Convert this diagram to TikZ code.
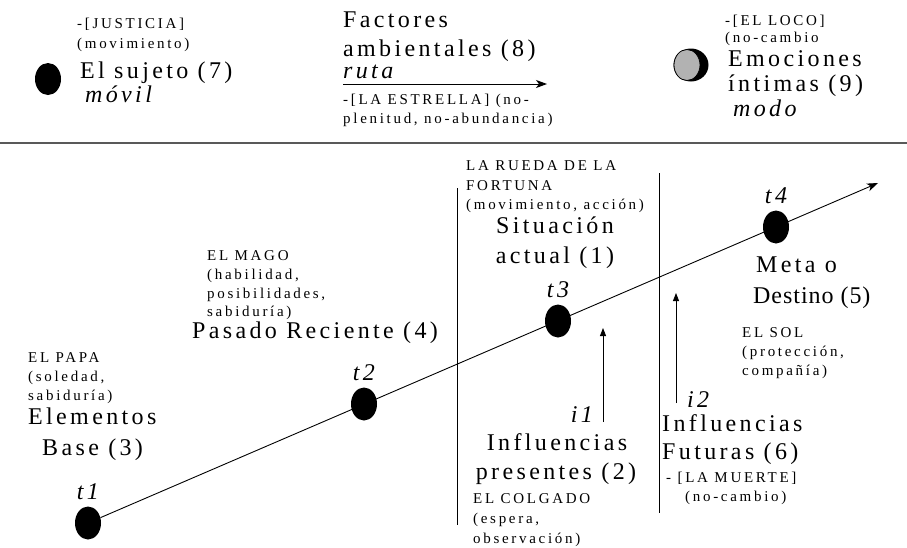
\documentclass[tikz,border=0pt]{standalone}
\usepackage{fontspec}
\setmainfont{Liberation Serif}
\newfontfamily\bigfam[LetterSpace=14]{Liberation Serif}
\newfontfamily\tightfam[LetterSpace=4]{Liberation Serif}
\newfontfamily\smallfam[LetterSpace=18]{Liberation Serif}
\usetikzlibrary{shapes.geometric,arrows.meta}
\begin{document}
\begin{tikzpicture}[x=1pt,y=-1pt,
  big/.style={font=\bigfam\fontsize{24}{30}\selectfont, inner sep=0pt, anchor=base west},
  bigc/.style={big, anchor=base},
  small/.style={font=\smallfam\fontsize{15}{19}\selectfont, inner sep=0pt, anchor=base west},
  lab/.style={font=\bigfam\itshape\fontsize{24}{30}\selectfont, inner sep=0pt, anchor=base west},
  dot/.style={ellipse, fill=black, minimum width=26pt, minimum height=33pt, inner sep=0pt},
  thinline/.style={line width=0.9pt},
  mainarrow/.style={line width=0.9pt, -{Stealth[length=11pt,width=8pt,inset=3pt]}},
  uparrow/.style={line width=0.9pt, -{Triangle[length=8pt,width=6pt]}}
]
\useasboundingbox (0,0) rectangle (907,547);

% ---------- top band ----------
\node[dot, minimum height=32pt] (suj) at (48,79) {};
\node[small] (jus1) at (77,28) {-[JUSTICIA]};
\node[small] (jus2) at (77,48) {(movimiento)};
\node[big]   (suj1) at (80,78) {El sujeto (7)};
\node[lab]   (suj2) at (85,102) {móvil};

\node[big]   (fac1) at (343,27) {Factores};
\node[big]   (fac2) at (343,56) {ambientales (8)};
\node[lab]   (fac3) at (343,78) {ruta};
\coordinate (ra) at (343,84);
\coordinate (rb) at (547,84);
\draw[mainarrow] (ra) -- (rb);
\node[small] (est1) at (343,104) {-[LA ESTRELLA] (no-};
\node[small] (est2) at (343,123) {plenitud, no-abundancia)};

\node[ellipse, fill=black, minimum width=35pt, minimum height=33pt, inner sep=0pt] (emo) at (691,65) {};
\node[ellipse, fill=black!30, draw=black, line width=0.8pt, minimum width=26pt, minimum height=31pt, inner sep=0pt] (emog) at (687,65) {};
\node[small] (loco1) at (725,25) {-[EL LOCO]};
\node[small] (loco2) at (725,42) {(no-cambio};
\node[big]   (emo1) at (728,66) {Emociones};
\node[big]   (emo2) at (728,91) {íntimas (9)};
\node[lab]   (emo3) at (733,116) {modo};

\coordinate (hl) at (0,143);
\coordinate (hr) at (907,143);
\draw[line width=1.4pt, black!65] (hl) -- (hr);

% ---------- time line ----------
\coordinate (tip) at (878,183);
\node[dot] (t1) at (88,523) {};
\node[dot] (t2) at (364,404) {};
\node[dot] (t3) at (558,321) {};
\node[dot] (t4) at (776,227) {};
\draw[mainarrow] (t1) -- (tip);
\node[lab, anchor=base] (t1l) at ([yshift=7pt]t1.north) {t1};
\node[lab, anchor=base] (t2l) at ([yshift=7pt]t2.north) {t2};
\node[lab, anchor=base] (t3l) at ([yshift=7pt]t3.north) {t3};
\node[lab, anchor=base] (t4l) at ([yshift=7pt]t4.north) {t4};

% vertical separators
\coordinate (v1a) at (457,188);
\coordinate (v1b) at (457,525);
\coordinate (v2a) at (659,173);
\coordinate (v2b) at (659,513);
\draw[thinline] (v1a) -- (v1b);
\draw[thinline] (v2a) -- (v2b);

% influence arrows
\coordinate (i1b) at (603,422);
\coordinate (i1t) at (603,328);
\coordinate (i2b) at (676,403);
\coordinate (i2t) at (676,293);
\draw[uparrow] (i1b) -- (i1t);
\draw[uparrow] (i2b) -- (i2t);
\node[lab, anchor=base east] (i1l) at (593,422) {i1};
\node[lab] (i2l) at (687,407) {i2};

% Elementos base
\node[small] (papa1) at (28,362) {EL PAPA};
\node[small] (papa2) at (28,381) {(soledad,};
\node[small] (papa3) at (28,400) {sabiduría)};
\node[big]   (ele1) at (28,424) {Elementos};
\node[big]   (ele2) at (42,455) {Base (3)};

% Pasado reciente
\node[small] (mago1) at (207,260) {EL MAGO};
\node[small] (mago2) at (207,279) {(habilidad,};
\node[small] (mago3) at (207,298) {posibilidades,};
\node[small] (mago4) at (207,316) {sabiduría)};
\node[big]   (pas) at (192,338) {Pasado Reciente (4)};

% Situacion actual
\node[small] (rue1) at (466,170) {LA RUEDA DE LA};
\node[small] (rue2) at (466,190) {FORTUNA};
\node[small] (rue3) at (466,209) {(movimiento, acción)};
\node[bigc]  (sit1) at (555,233) {Situación};
\node[bigc]  (sit2) at (555,263) {actual (1)};

% Influencias presentes
\node[bigc]  (ip1) at (557,450) {Influencias};
\node[bigc]  (ip2) at (556,479) {presentes (2)};
\node[small] (col1) at (473,503) {EL COLGADO};
\node[small] (col2) at (473,523) {(espera,};
\node[small] (col3) at (473,543) {observación)};

% Influencias futuras
\node[big]   (if1) at (662,431) {Influencias};
\node[big]   (if2) at (662,459) {Futuras (6)};
\node[small] (mue1) at (666,482) {- [LA MUERTE]};
\node[small] (mue2) at (685,501) {(no-cambio)};

% Meta o destino
\node[big]   (met1) at (756,272) {Meta o};
\node[big, font=\tightfam\fontsize{24}{30}\selectfont] (met2) at (753,303) {Destino (5)};
\node[small] (sol1) at (742,337) {EL SOL};
\node[small] (sol2) at (742,356) {(protección,};
\node[small] (sol3) at (742,375) {compañía)};
\end{tikzpicture}
\end{document}
